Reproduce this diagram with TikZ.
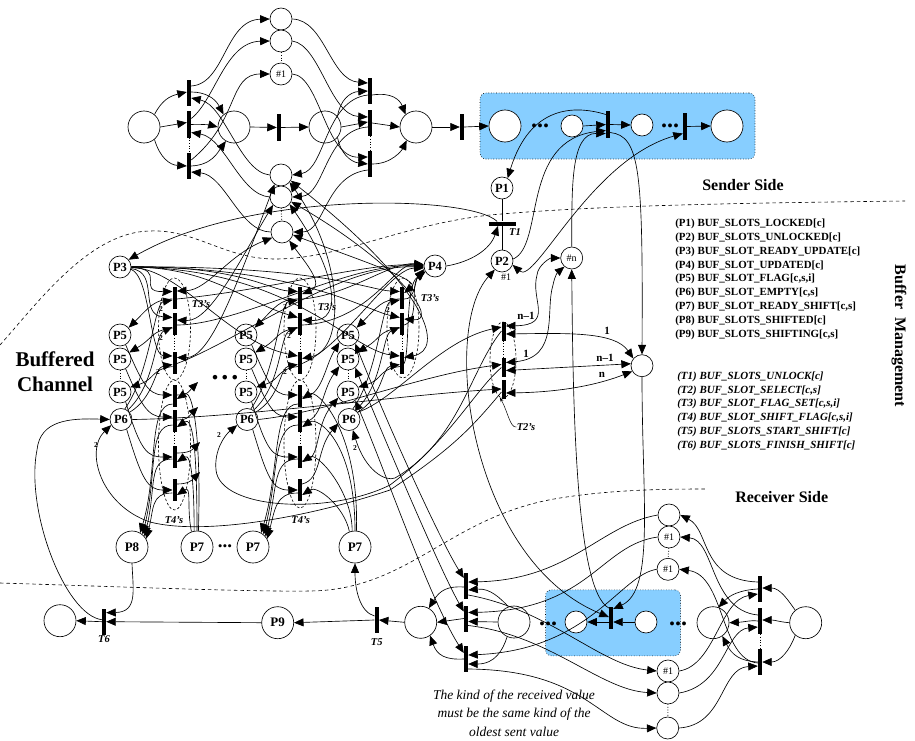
\documentclass[tikz,border=0pt]{standalone}
\usepackage{fontspec}
\setmainfont{Liberation Serif}
\usetikzlibrary{arrows.meta,shapes.geometric}
\definecolor{bluebox}{RGB}{135,206,255}
\tikzset{
 every path/.append style={line width=.65pt},
 pl/.style={circle,draw,fill=white,minimum size=22pt,inner sep=0pt,font=\bfseries\fontsize{12.5}{12.5}\selectfont},
 plbig/.style={circle,draw,fill=white,minimum size=32pt,inner sep=0pt,font=\bfseries\fontsize{13}{13}\selectfont},
 plsmall/.style={pl,font=\fontsize{10}{10}\selectfont},
 bar/.style={rectangle,fill=black,draw=none,minimum width=3.8pt,minimum height=26pt,inner sep=0pt},
 hbar/.style={rectangle,fill=black,draw=none,minimum width=27pt,minimum height=3.8pt,inner sep=0pt},
 arr/.style={-{Triangle[length=9.5pt,width=8pt]}},
 dbl/.style={{Triangle[length=9.5pt,width=8pt]}-{Triangle[length=9.5pt,width=8pt]}},
 dots/.style={dotted,line width=1pt},
 bnd/.style={dash pattern=on 3.5pt off 3pt,line width=.6pt},
 grp/.style={dash pattern=on 2.5pt off 2pt,line width=.6pt},
 bluebg/.style={rectangle,rounded corners=6pt,fill=bluebox,draw=black,dotted,line width=.6pt},
 lab/.style={font=\bfseries\itshape\fontsize{10.5}{10.5}\selectfont,inner sep=0pt},
 num/.style={font=\bfseries\fontsize{7.5}{7.5}\selectfont,inner sep=0pt},
 wgt/.style={font=\bfseries\fontsize{11}{11}\selectfont,inner sep=0pt},
 list/.style={font=\bfseries\fontsize{10.95}{10.95}\selectfont,inner sep=0pt,anchor=west},
 ilist/.style={font=\bfseries\itshape\fontsize{10.95}{10.95}\selectfont,inner sep=0pt,anchor=west},
 head/.style={font=\bfseries\fontsize{16}{16}\selectfont,inner sep=0pt},
 txt/.style={font=\itshape\fontsize{13.5}{13.5}\selectfont,inner sep=0pt},
 dotrow/.style={font=\bfseries\fontsize{24}{24}\selectfont,inner sep=0pt},
}
\begin{document}
\begin{tikzpicture}[x=1pt,y=-1pt]
\useasboundingbox (0,0) rectangle (915,741);
% boxes
\node[bluebg,minimum width=275pt,minimum height=66pt] (boxA) at (617.5,126) {};
\node[bluebg,minimum width=135pt,minimum height=66pt] (boxB) at (613,622.8) {};
% boundaries
\draw[bnd] (0,345) .. controls (40,300) and (90,232) .. (150,231) .. controls (195,229) and (225,259) .. (275,259) .. controls (340,259) and (400,225) .. (490,215) .. controls (600,205) and (750,203) .. (905,201);
\draw[bnd] (0,583) .. controls (100,586) and (250,592) .. (310,591) .. controls (410,590) and (450,515) .. (560,498) .. controls (610,490) and (660,489) .. (705,489);
% top places
\node[plbig] (S0) at (144,127) {};
\node[plbig] (S1) at (234,127) {};
\node[plbig] (S2) at (325,127) {};
\node[plbig] (S3) at (416,127) {};
\node[pl] (U1) at (281,19) {};
\node[pl] (U2) at (281,41) {};
\node[plsmall] (U3) at (281,74) {\#1};
\node[pl] (L1) at (281,175) {};
\node[pl] (L2) at (281,197) {};
\node[pl] (L3) at (282,232) {};
\node[bar] (Tb1) at (189,93) {};
\node[bar] (Tb2) at (189,124.5) {};
\node[bar] (Tb3) at (189,166) {};
\node[bar] (Tm) at (279,127.5) {};
\node[bar] (Tc1) at (370,91) {};
\node[bar] (Tc2) at (370,123) {};
\node[bar] (Tc3) at (370,164) {};
\node[bar] (Tout) at (462,127) {};
% sender
\node[plbig] (B1) at (505,126) {};
\node[pl] (B2) at (572,126) {};
\node[pl] (B3) at (642,125) {};
\node[plbig] (B4) at (727,126) {};
\node[bar] (Tb) at (608,124.5) {};
\node[bar] (Te) at (685,126.5) {};
\node[pl] (P1) at (502,188) {P1};
\node[hbar] (T1) at (502,223.7) {};
\node[pl] (P2) at (502,261) {P2};
\node[plsmall] (Pn) at (571.7,258) {\#n};
\node[pl] (P3) at (120,267) {P3};
\node[pl] (P4) at (435,266) {P4};
% columns
\foreach \n/\xb/\xa in {c1/174.7/120,c2/300/246,c3/402/348}{
 \node[pl] (\n-p5a) at (\xa,335) {P5};
 \node[pl] (\n-p5b) at (\xa,359) {P5};
 \node[pl] (\n-p5c) at (\xa,392) {P5};
 \node[pl] (\n-p6) at (\xa+1,419.5) {P6};
 \node[bar,minimum height=22pt] (\n-a) at (\xb,298) {};
 \node[bar,minimum height=22pt] (\n-b) at (\xb,324) {};
 \node[bar,minimum height=22pt] (\n-c) at (\xb,362.5) {};
 \draw[dots] (\n-b) -- (\n-c);
 \draw[dots] (\n-p5b) -- (\n-p5c);
}
\foreach \n/\xb in {c1/174.7,c2/300}{
 \node[bar,minimum height=22pt] (\n-d) at (\xb,396) {};
 \node[bar,minimum height=22pt] (\n-e) at (\xb,421) {};
 \node[bar,minimum height=22pt] (\n-f) at (\xb,457) {};
 \node[bar,minimum height=22pt] (\n-g) at (\xb,490) {};
 \draw[dots] (\n-e) -- (\n-f);
}
\node[bar,minimum height=19pt] (Ta) at (503.7,331) {};
\node[bar,minimum height=19pt] (Tbb) at (503.7,367.5) {};
\node[bar,minimum height=19pt] (Tcc) at (503.7,389) {};
\node[pl] (Rp) at (642,365.7) {};
\node[plbig] (P8) at (132,547) {P8};
\node[plbig] (P7a) at (197,547) {P7};
\node[plbig] (P7b) at (253,547) {P7};
\node[plbig] (P7c) at (355,547) {P7};
% bottom
\node[plbig] (Z) at (60,620.7) {};
\node[bar] (T6) at (104,621.7) {};
\node[plbig] (P9) at (277.7,622.7) {P9};
\node[bar] (T5) at (376.7,620) {};
\node[plbig] (R0) at (420.7,622.3) {};
\node[bar] (Ra) at (466,586) {};
\node[bar] (Rb) at (466,618.5) {};
\node[bar] (Rc) at (466,659) {};
\node[plbig] (R1) at (514,622) {};
\node[pl] (R2) at (576,622) {};
\node[bar,minimum height=22pt] (Rm) at (611,618) {};
\node[pl] (R3) at (646,622) {};
\node[plbig] (R4) at (713,622.7) {};
\node[plbig] (R5) at (805.7,622.7) {};
\node[bar] (Rd) at (760,589) {};
\node[bar] (Re) at (760,621) {};
\node[bar] (Rf) at (760,662) {};
\node[pl] (V1) at (669,515) {};
\node[plsmall] (V2) at (669,537) {\#1};
\node[plsmall] (V3) at (668,569.3) {\#1};
\node[plsmall] (W1) at (668,671) {\#1};
\node[pl] (W2) at (668,693) {};
\node[pl] (W3) at (667.7,728) {};
% dotted ties
\draw[dots] (U2) -- (U3); \draw[dots] (L2) -- (L3);
\draw[dots] (Tb2) -- (Tb3); \draw[dots] (Tc2) -- (Tc3);
\draw[dots] (Ta) -- (Tbb); \draw[dots] (Re) -- (Rf);
\draw[dots] (V2) -- (V3); \draw[dots] (W2) -- (W3);
% group ellipses
\foreach \e/\xc/\yc/\hh in {e1/174.5/329/102pt,e2/174.5/445/130pt,e3/300/329/102pt,e4/300/444/128pt,e5/403/328/100pt}{
 \node[draw,ellipse,grp,minimum width=32pt,minimum height=\hh,inner sep=0pt] (\e) at (\xc,\yc) {};
}
\node[draw,ellipse,grp,minimum width=26pt,minimum height=76pt,inner sep=0pt] (e6) at (503,360) {};
% ---------- top net
\draw[arr] (S0.50) .. controls (162,100) and (170,96) .. ([yshift=1pt]Tb1.west);
\draw[arr] (S0.east) -- ([yshift=2pt]Tb2.west);
\draw[arr] (S0.-50) .. controls (160,158) and (170,165) .. (Tb3.west);
\draw[arr] ([yshift=7pt]Tb1.east) .. controls (225,84) and (225,20) .. (U1.west);
\draw[arr] ([yshift=6pt]Tb2.east) .. controls (215,100) and (225,42) .. (U2.west);
\draw[arr] ([yshift=6pt]Tb3.east) .. controls (240,120) and (228,74) .. (U3.west);
\draw[arr] ([yshift=1pt]Tb1.east) .. controls (205,92) and (215,98) .. (S1.130);
\draw[arr] (Tb2.east) .. controls (200,124) and (210,125) .. (S1.west);
\draw[arr] (Tb3.east) .. controls (212,165) and (218,152) .. (S1.-120);
\draw[arr] (L1.west) .. controls (240,172) and (225,105) .. ([yshift=-5pt]Tb1.east);
\draw[arr] (L2.west) .. controls (240,195) and (225,138) .. ([yshift=-8pt]Tb2.east);
\draw[arr] (L3.west) .. controls (240,232) and (225,175) .. ([yshift=-6pt]Tb3.east);
\draw[arr] (S1.east) -- (Tm.west);
\draw[arr] (Tm.east) -- (S2.west);
\draw[arr] (U1.east) .. controls (325,20) and (330,80) .. ([yshift=8pt]Tc1.west);
\draw[arr] (U2.east) .. controls (320,45) and (330,115) .. ([yshift=6pt]Tc2.west);
\draw[arr] (U3.east) .. controls (320,76) and (325,158) .. ([yshift=7pt]Tc3.west);
\draw[arr] (S2.40) .. controls (340,100) and (350,92) .. (Tc1.west);
\draw[arr] (S2.east) -- ([yshift=1pt]Tc2.west);
\draw[arr] (S2.-40) .. controls (340,152) and (350,162) .. (Tc3.west);
\draw[arr] ([yshift=-4pt]Tc1.west) .. controls (325,100) and (325,170) .. (L1.east);
\draw[arr] ([yshift=-4pt]Tc2.west) .. controls (325,130) and (325,195) .. (L2.east);
\draw[arr] ([yshift=-6pt]Tc3.west) .. controls (325,175) and (325,232) .. (L3.east);
\draw[arr] ([yshift=-4pt]Tc1.east) .. controls (392,92) and (400,100) .. (S3.130);
\draw[arr] (Tc2.east) -- (S3.west);
\draw[arr] (Tc3.east) .. controls (392,164) and (402,150) .. (S3.-125);
\draw[arr] (S3.east) -- (Tout.west);
\draw[arr] (Tout.east) -- (B1.west);
% ---------- sender side
\draw[arr] (B2.east) -- (Tb.west);
\draw[arr] (Tb.east) -- (B3.west);
\draw[arr] (Te.east) -- (B4.west);
\draw[arr] ([yshift=10pt]Tb.west) .. controls (575,105) and (530,105) .. (P1.60);
\draw (P1) -- (T1); \draw (T1) -- (P2);
\draw[arr] (P2.10) .. controls (545,245) and (520,140) .. ([yshift=-6pt]Tb.west);
\draw[arr] (Pn.north) .. controls (572,190) and (570,133) .. ([yshift=-9pt]Tb.west);
\draw[dbl] (P2.-20) .. controls (535,285) and (590,160) .. ([yshift=-7pt]Te.west);
\draw[arr] ([yshift=-8pt]Tb.east) .. controls (640,136) and (643,170) .. (Rp.north);
\draw[arr] (Rp.south) .. controls (642,500) and (655,590) .. ([yshift=9pt]Rm.east);
\draw[arr] ([yshift=10pt]Rm.west) .. controls (575,590) and (573,400) .. (Pn.south);
\draw[arr] (T1.155) .. controls (470,195) and (250,190) .. (P3.40);
\draw[arr] (P4.east) .. controls (470,262) and (490,250) .. ([xshift=-4pt]T1.south);
\draw[dbl] (P2.-130) .. controls (440,330) and (470,560) .. ([yshift=1pt]Rm.west);
% ---------- T2 region
\draw[dbl] ([yshift=5pt]Ta.east) .. controls (555,325) and (530,300) .. (537,275) .. controls (538,265) and (550,258) .. (Pn.west);
\draw[dbl] ([yshift=5pt]Tbb.east) .. controls (560,358) and (545,310) .. (553,285) .. controls (555,275) and (558,272) .. (Pn.-130);
\draw[dbl] ([yshift=-3pt]Ta.east) .. controls (570,333) and (615,332) .. (Rp.140);
\draw[dbl] ([yshift=-3pt]Tbb.east) -- (Rp.170);
\draw[dbl] ([yshift=-4pt]Tcc.east) .. controls (570,392) and (605,382) .. (Rp.-150);
\node[lab] (T2l) at (526,427) {T2's};
\draw[-{Stealth[length=5pt,width=3pt]},line width=.5pt] (T2l.west) .. controls (510,428) and (508,412) .. (e6.-95);
% P6 -> T2
\draw[arr] (c3-p6.40) .. controls (395,400) and (440,340) .. ([yshift=4pt]Ta.west);
\draw[arr] (c2-p6.east) .. controls (330,412) and (420,375) .. ([yshift=3pt]Tbb.west);
\draw[arr] (c1-p6.east) .. controls (240,418) and (400,395) .. (Tcc.west);
% T2 -> P6 with weight
\draw[arr] (Ta.west) .. controls (470,370) and (460,440) .. (395,478) .. controls (385,482) and (365,470) .. (c3-p6.-70);
\draw[arr] (Tbb.west) .. controls (475,390) and (450,440) .. (390,485) .. controls (330,515) and (220,510) .. (216,470) .. controls (214,450) and (225,435) .. (c2-p6.-150);
\draw[arr] ([yshift=-3pt]Tcc.west) .. controls (470,430) and (450,450) .. (390,490) .. controls (300,520) and (200,535) .. (150,522) .. controls (100,505) and (85,450) .. (c1-p6.-150);
\draw[arr] ([yshift=2pt]T6.west) .. controls (65,615) and (25,510) .. (37,450) .. controls (40,420) and (70,418) .. (c1-p6.west);
% ---------- P3 -> T3
\foreach \t/\ang/\ax/\ay/\bx/\by in {c1-a/-4/168/268/135/292,c1-b/-8/160/272/138/315,c1-c/-12/150/276/150/355,
 c2-a/1/240/266/270/290,c2-b/0/210/267/245/302,c2-c/-2/180/268/228/342,
 c3-a/1/320/266/370/290,c3-b/0/300/267/365/310,c3-c/-1/290/268/350/350}{
 \draw[arr] (P3.\ang) .. controls (\ax,\ay) and (\bx,\by) .. ([yshift=6.5pt]\t.west);
}
% T3 -> P4
\foreach \t/\ang/\ax/\ay/\bx/\by in {c1-a/178/270/290/370/262,c1-b/182/240/325/350/262,c1-c/186/240/340/340/264,
 c2-a/172/350/295/390/262,c2-b/176/370/322/395/262,c2-c/190/345/345/390/268,
 c3-a/196/415/300/415/280,c3-b/205/420/320/410/285,c3-c/212/410/350/405/285}{
 \draw[arr] ([yshift=-1pt]\t.east) .. controls (\ax,\ay) and (\bx,\by) .. (P4.\ang);
}
% T3 <-> L places
\draw[dbl] ([yshift=7pt]c1-a.east) .. controls (208,290) and (228,255) .. (L3.-150);
\draw[dbl] ([yshift=4pt]c1-b.east) .. controls (210,322) and (240,260) .. (L2.-135);
\draw[dbl] ([yshift=5pt]c1-c.east) .. controls (210,358) and (235,290) .. (L1.-125);
\draw[dbl] ([yshift=4pt]c2-a.east) .. controls (325,285) and (305,262) .. (L3.-50);
\draw[dbl] ([yshift=4pt]c2-b.east) .. controls (345,322) and (335,270) .. (L2.-40);
\draw[dbl] ([yshift=4pt]c2-c.east) .. controls (345,350) and (345,260) .. (L1.-40);
\draw[dbl] ([yshift=5pt]c3-a.east) .. controls (420,280) and (365,262) .. (L3.-15);
\draw[dbl] ([yshift=5pt]c3-b.east) .. controls (440,322) and (400,265) .. (L2.-25);
\draw[dbl] ([yshift=5pt]c3-c.east) .. controls (445,350) and (430,290) .. (L1.-30);
% columns 1,2,3: T3 -> P5 and P6 -> T3
\foreach \n in {c1,c2,c3}{
 \draw[arr] ([yshift=-1pt]\n-a.west) .. controls +(-18,0) and +(20,-20) .. (\n-p5a.40);
 \draw[arr] ([yshift=-4pt]\n-b.west) .. controls +(-22,3) and +(25,-15) .. (\n-p5b.35);
 \draw[arr] ([yshift=-4pt]\n-c.west) .. controls +(-22,3) and +(25,-8) .. (\n-p5c.25);
 \draw[arr] (\n-p6.70) .. controls +(25,-35) and +(-18,3) .. ([yshift=-2pt]\n-a.west);
 \draw[arr] (\n-p6.55) .. controls +(28,-25) and +(-18,8) .. ([yshift=-3pt]\n-b.west);
 \draw[arr] (\n-p6.40) .. controls +(25,-15) and +(-18,3) .. ([yshift=-2pt]\n-c.west);
}
% columns 1,2: P5 -> T4, T4 -> P8/P7, P7 -> T4
\foreach \n/\snk/\srcA in {c1/P8/P7a,c2/P7b/P7c}{
 \draw[arr] (\n-p5a.-60) .. controls +(15,35) and +(-25,0) .. ([yshift=1pt]\n-d.west);
 \draw[arr] (\n-p5b.-60) .. controls +(15,35) and +(-25,0) .. ([yshift=4pt]\n-e.west);
 \draw[arr] (\n-p5c.-60) .. controls +(15,50) and +(-25,0) .. (\n-f.west);
 \draw[arr] (\n-p6.-60) .. controls +(15,50) and +(-25,0) .. (\n-g.west);
 \draw[arr] ([yshift=-8pt]\n-d.west) .. controls +(-25,0) and +(18,-60) .. (\snk.60);
 \draw[arr] ([yshift=-4pt]\n-e.west) .. controls +(-25,0) and +(15,-60) .. (\snk.50);
 \draw[arr] ([yshift=-2pt]\n-f.west) .. controls +(-25,0) and +(12,-50) .. (\snk.40);
 \draw[arr] ([yshift=-3pt]\n-g.west) .. controls +(-22,0) and +(8,-30) .. (\snk.30);
 \draw[arr] (\srcA.85) .. controls +(3,-100) and +(15,-10) .. ([yshift=-3pt]\n-d.east);
 \draw[arr] (\srcA.90) .. controls +(0,-90) and +(15,-10) .. ([yshift=-6pt]\n-e.east);
 \draw[arr] (\srcA.100) .. controls +(0,-40) and +(15,-10) .. ([yshift=-5pt]\n-f.east);
 \draw[arr] (\srcA.110) .. controls +(-5,-25) and +(15,-10) .. ([yshift=-5pt]\n-g.east);
}
\coordinate (f1) at (198,382); \coordinate (f2) at (198,407);
\coordinate (f3) at (200,442); \coordinate (f4) at (200,472);
\draw[arr] ([yshift=1pt]c1-d.east) .. controls +(12,0) and +(-8,8) .. (f1);
\draw[arr] ([yshift=1pt]c1-e.east) .. controls +(12,0) and +(-8,8) .. (f2);
\draw[arr] ([yshift=4pt]c1-f.east) .. controls +(12,0) and +(-8,8) .. (f3);
\draw[arr] ([yshift=6pt]c1-g.east) .. controls +(12,0) and +(-8,8) .. (f4);
\draw[arr] ([yshift=-1pt]c2-d.east) .. controls +(20,0) and +(-15,25) .. (c3-p5a.-140);
\draw[arr] ([yshift=-1pt]c2-e.east) .. controls +(20,0) and +(-18,25) .. (c3-p5b.-140);
\draw[arr] ([yshift=-4pt]c2-f.east) .. controls +(20,0) and +(-25,30) .. (c3-p5c.-150);
\draw[arr] ([yshift=6pt]c2-g.east) .. controls +(20,-5) and +(-22,25) .. (c3-p6.-160);
% P5 (col 3) <-> receive bars
\draw[dbl] (c3-p5a.-50) .. controls (390,430) and (440,540) .. ([yshift=8pt]Ra.west);
\draw[dbl] (c3-p5b.-50) .. controls (385,440) and (440,570) .. ([yshift=7pt]Rb.west);
\draw[dbl] (c3-p5c.-50) .. controls (385,470) and (430,600) .. ([yshift=6pt]Rc.west);
% ---------- receiver side
\draw[arr] ([yshift=-1pt]Ra.west) .. controls (448,586) and (440,590) .. (R0.60);
\draw[arr] (Rb.west) -- (R0.east);
\draw[arr] (Rc.west) .. controls (445,660) and (437,655) .. (R0.-55);
\draw[arr] (V1.west) .. controls (600,525) and (570,580) .. ([yshift=4pt]Ra.east);
\draw[arr] (V2.west) .. controls (600,545) and (590,610) .. ([yshift=6pt]Rb.east);
\draw[arr] (V3.west) .. controls (620,575) and (590,650) .. ([yshift=4pt]Rc.east);
\draw[arr] (R1.110) .. controls (500,598) and (490,588) .. ([yshift=-4pt]Ra.east);
\draw[arr] (R1.west) -- ([yshift=-3pt]Rb.east);
\draw[arr] (R1.-115) .. controls (503,650) and (495,664) .. ([yshift=-5pt]Rc.east);
\draw[arr] ([yshift=-9pt]Ra.east) .. controls (550,610) and (600,665) .. (W1.west);
\draw[arr] ([yshift=-7pt]Rb.east) .. controls (550,635) and (600,690) .. (W2.west);
\draw[arr] ([yshift=-10pt]Rc.east) .. controls (590,670) and (600,730) .. (W3.west);
\draw[arr] (R3.west) -- ([yshift=-4pt]Rm.east);
\draw[arr] ([yshift=-4pt]Rm.west) -- (R2.east);
\draw[arr] ([yshift=7pt]Rd.west) .. controls (700,580) and (710,530) .. (V1.east);
\draw[arr] ([yshift=6pt]Re.west) .. controls (710,610) and (715,540) .. (V2.east);
\draw[arr] ([yshift=-1pt]Rf.west) .. controls (720,660) and (725,575) .. (V3.east);
\draw[arr] (W1.east) .. controls (715,665) and (720,600) .. ([yshift=-5pt]Rd.west);
\draw[arr] (W2.east) .. controls (725,685) and (725,630) .. ([yshift=-6pt]Re.west);
\draw[arr] (W3.east) .. controls (725,725) and (720,668) .. ([yshift=-4pt]Rf.west);
\draw[arr] (Rd.west) .. controls (740,590) and (730,595) .. (R4.70);
\draw[arr] (Re.west) .. controls (750,620) and (745,622) .. (R4.east);
\draw[arr] (Rf.west) .. controls (740,661) and (732,655) .. (R4.-55);
\draw[arr] (R5.130) .. controls (788,600) and (780,588) .. ([yshift=1pt]Rd.east);
\draw[arr] (R5.west) .. controls (780,622) and (775,620) .. ([yshift=1pt]Re.east);
\draw[arr] (R5.-130) .. controls (790,650) and (780,662) .. (Rf.east);
% ---------- bottom line
\draw[arr] (R0.west) -- (T5.east);
\draw[arr] (T5.west) -- (P9.east);
\draw[arr] (P9.west) -- (T6.east);
\draw[arr] (T6.west) -- (Z.east);
\draw[arr] ([yshift=4pt]T5.west) .. controls (360,612) and (355,590) .. (P7c.south);
\draw[arr] (P8.south) .. controls (133,590) and (138,612) .. ([yshift=9pt]T6.east);
% ---------- dots
\node[dotrow] (d1) at (540,126) {...};
\node[dotrow] (d2) at (670,126) {...};
\node[dotrow] (d3) at (548,623.5) {...};
\node[dotrow] (d4) at (678,623.5) {...};
\node[font=\bfseries\fontsize{19}{19}\selectfont,inner sep=0pt] (d5) at (225,546) {...};
\node[font=\bfseries\fontsize{28}{28}\selectfont,inner sep=0pt] (d6) at (225,378) {.\kern3pt.\kern3pt.};
% ---------- labels
\node[lab] (t1) at (515,232.5) {T1};
\node[font=\fontsize{10}{10}\selectfont,inner sep=0pt] (n1) at (506,277) {\#1};
\node[lab] (t3a) at (201,304) {T3's};
\node[lab] (t3b) at (327,306.7) {T3's};
\node[lab] (t3c) at (430,298) {T3's};
\node[lab] (t4a) at (174,520) {T4's};
\node[lab] (t4b) at (300.7,520) {T4's};
\node[lab] (t5) at (376.7,642) {T5};
\node[lab] (t6) at (104,639) {T6};
\node[num] (w1) at (161,309) {2};
\node[num] (w2) at (161,338) {2};
\node[num] (w3) at (158,372) {2};
\node[num] (w4) at (285,307) {2};
\node[num] (w5) at (289,336) {2};
\node[num] (w6) at (285,372) {2};
\node[num] (w7) at (388,310) {2};
\node[num] (w8) at (96,445) {2};
\node[num] (w9) at (219,435) {2};
\node[num] (w10) at (355,448) {2};
\node[wgt] (l1) at (526,316) {n--1};
\node[wgt] (l2) at (526,354) {1};
\node[wgt] (l3) at (607,331) {1};
\node[wgt] (l4) at (605,358) {n--1};
\node[wgt] (l5) at (602,375) {n};
% ---------- text
\node[head] (sender) at (743,185) {Sender Side};
\node[head] (receiver) at (781.7,497) {Receiver Side};
\node[head,rotate=-90] (bufm) at (899,336) {Buffer\ \ Management};
\node[font=\bfseries\fontsize{21}{21}\selectfont,inner sep=0pt] (bc1) at (55,359) {Buffered};
\node[font=\bfseries\fontsize{21}{21}\selectfont,inner sep=0pt] (bc2) at (55,384) {Channel};
\node[list] (a1) at (675,224.3) {(P1) BUF\_SLOTS\_LOCKED[c]};
\node[list] (a2) at (675,238) {(P2) BUF\_SLOTS\_UNLOCKED[c]};
\node[list] (a3) at (675,251.7) {(P3) BUF\_SLOT\_READY\_UPDATE[c]};
\node[list] (a4) at (675,265.5) {(P4) BUF\_SLOT\_UPDATED[c]};
\node[list] (a5) at (675,279.2) {(P5) BUF\_SLOT\_FLAG[c,s,i]};
\node[list] (a6) at (675,293) {(P6) BUF\_SLOT\_EMPTY[c,s]};
\node[list] (a7) at (675,306.7) {(P7) BUF\_SLOT\_READY\_SHIFT[c,s]};
\node[list] (a8) at (675,320.5) {(P8) BUF\_SLOTS\_SHIFTED[c]};
\node[list] (a9) at (675,334.5) {(P9) BUF\_SLOTS\_SHIFTING[c,s]};
\node[ilist] (b1) at (677,376.7) {(T1) BUF\_SLOTS\_UNLOCK[c]};
\node[ilist] (b2) at (677,390.5) {(T2) BUF\_SLOT\_SELECT[c,s]};
\node[ilist] (b3) at (677,404.3) {(T3) BUF\_SLOT\_FLAG\_SET[c,s,i]};
\node[ilist] (b4) at (677,418) {(T4) BUF\_SLOT\_SHIFT\_FLAG[c,s,i]};
\node[ilist] (b5) at (677,431.8) {(T5) BUF\_SLOTS\_START\_SHIFT[c]};
\node[ilist] (b6) at (677,445.6) {(T6) BUF\_SLOTS\_FINISH\_SHIFT[c]};
\node[txt] (k1) at (514,696.5) {The kind of the received value};
\node[txt] (k2) at (514,714) {must be the same kind of the};
\node[txt] (k3) at (514,732) {oldest sent value};
\end{tikzpicture}
\end{document}
